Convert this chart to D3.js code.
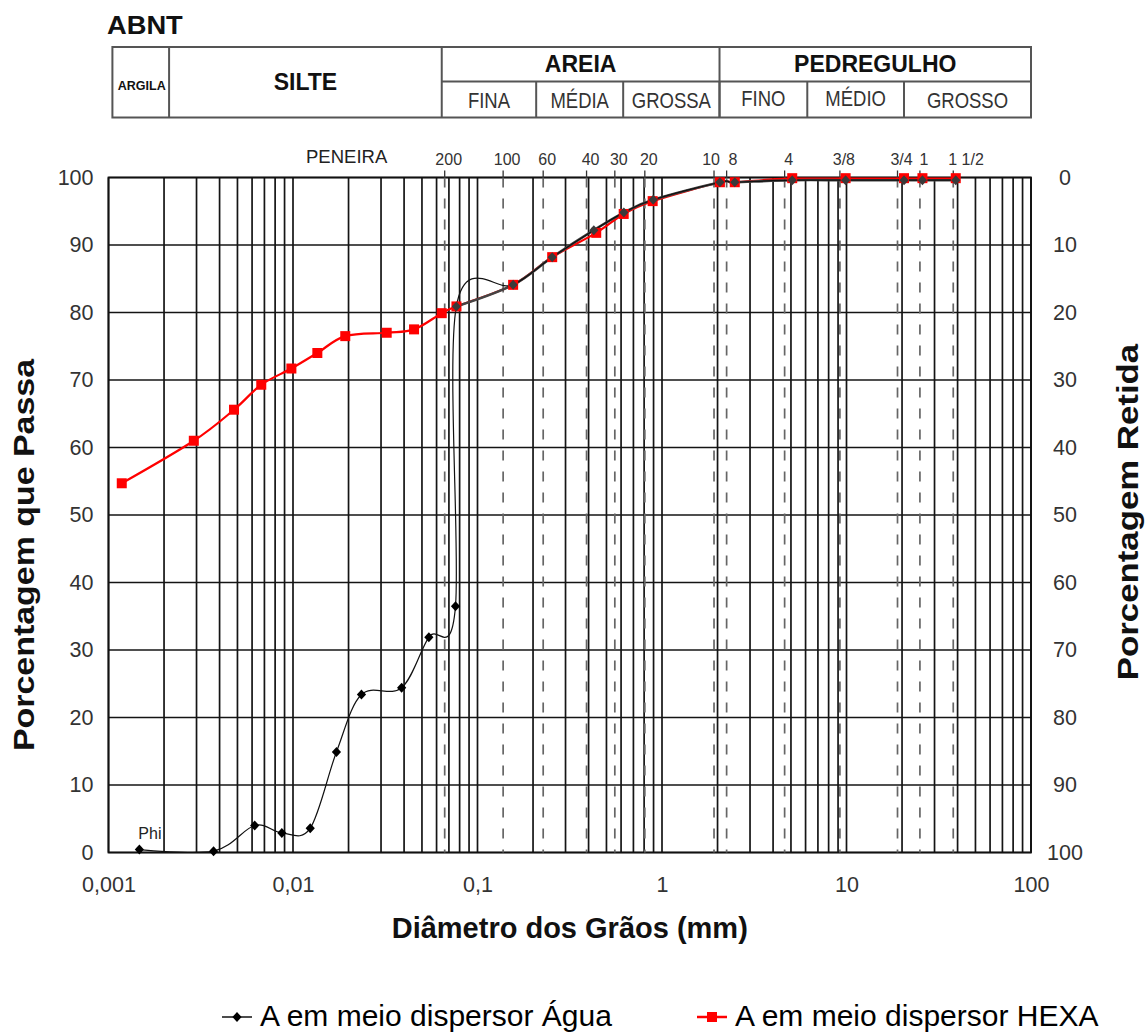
<!DOCTYPE html>
<html>
<head>
<meta charset="utf-8">
<script src="https://cdn.jsdelivr.net/npm/d3@7"></script>
<style>
  html, body { margin: 0; padding: 0; background: #fff; }
  text { font-family: "Liberation Sans", Arial, sans-serif; }
</style>
</head>
<body>
<div id="chart"></div>
<script>
// Curva granulométrica — ensaio em água e com hexametafosfato

// diâmetro (mm) / porcentagem que passa — série "Água"
const diamAgua = [0.00147, 0.00371, 0.0062, 0.0087, 0.0124, 0.0172, 0.0235, 0.0388, 0.0545, 0.0760,
  0.0768, 0.156, 0.254, 0.427, 0.621, 0.896, 2.06, 2.48, 5.08, 9.89, 20.5, 25.8, 39.1];
const passAgua = [0.44, 0.2, 4.0, 2.9, 3.6, 14.9, 23.4, 24.4, 31.9, 36.5,
  80.9, 84.1, 88.2, 92.2, 94.8, 96.7, 99.3, 99.3, 99.6, 99.6, 99.6, 99.6, 99.6];

// série "HEXA"
const diamHexa = [0.00118, 0.0029, 0.00479, 0.00673, 0.0098, 0.01355, 0.0192, 0.0322, 0.0453, 0.064,
  0.0769, 0.156, 0.254, 0.44, 0.62, 0.89, 2.06, 2.48, 5.08, 9.89, 20.5, 25.8, 39.1];
const passHexa = [54.7, 61.0, 65.6, 69.3, 71.7, 74.0, 76.5, 77.0, 77.5, 79.9,
  80.9, 84.1, 88.2, 91.8, 94.6, 96.5, 99.3, 99.3, 99.9, 99.9, 99.9, 99.9, 99.9];

// peneiras (posição)
const sieveLabels = ["200", "100", "60", "40", "30", "20", "10", "8", "4", "3/8", "3/4", "1", "1 1/2"];
const sieveDiam   = [0.0664, 0.1377, 0.227, 0.390, 0.555, 0.807, 1.914, 2.24, 4.62, 9.21, 18.9, 25.0, 37.9];

// escala ABNT
const abntTop    = ["ARGILA", "SILTE", "AREIA", "PEDREGULHO"];
const abntTopLim = [0.00105, 0.00213, 0.064, 2.05, 100];
const abntSub    = ["FINA", "MÉDIA", "GROSSA", "FINO", "MÉDIO", "GROSSO"];
const abntSubLim = [0.064, 0.208, 0.616, 2.05, 6.13, 20.5, 100];

const xTicks = [0.001, 0.01, 0.1, 1, 10, 100];
const yTicks = [0, 10, 20, 30, 40, 50, 60, 70, 80, 90, 100];

const W = 1147, H = 1034;
const P = { left: 108.5, right: 1031, top: 177.5, bottom: 852.5 };

const svg = d3.select("#chart").append("svg")
  .attr("width", W).attr("height", H)
  .style("display", "block");

svg.append("rect").attr("width", W).attr("height", H).attr("fill", "#fff");

const x = d3.scaleLog().domain([0.001, 100]).range([P.left, P.right]);
const y = d3.scaleLinear().domain([0, 100]).range([P.bottom, P.top]);
const yR = d3.scaleLinear().domain([100, 0]).range([P.bottom, P.top]);

// text helper — sx/sy stretch the glyphs (sx runs along the text, also when rotated)
function label(parent, tx, ty, str, o = {}) {
  return parent.append("text")
    .attr("transform", `translate(${tx},${ty})` + (o.rot ? ` rotate(${o.rot})` : "") + ` scale(${o.sx || 1},${o.sy || 1})`)
    .attr("text-anchor", o.anchor || "start")
    .attr("font-size", o.size || 16)
    .attr("font-weight", o.weight || "normal")
    .attr("fill", o.fill || "#111")
    .text(str);
}

// ---------- ABNT table ----------
const tb = svg.append("g");
const tTop = 47, tMid = 81.5, tBot = 117.5;
const border = "#555";

tb.append("rect")
  .attr("x", x(abntTopLim[0])).attr("y", tTop)
  .attr("width", x(100) - x(abntTopLim[0])).attr("height", tBot - tTop)
  .attr("fill", "none").attr("stroke", border).attr("stroke-width", 2);

abntTopLim.slice(1, -1).forEach(d => {
  tb.append("line").attr("x1", x(d)).attr("x2", x(d)).attr("y1", tTop).attr("y2", tBot)
    .attr("stroke", border).attr("stroke-width", 2);
});
tb.append("line").attr("x1", x(abntTopLim[2])).attr("x2", x(100)).attr("y1", tMid).attr("y2", tMid)
  .attr("stroke", border).attr("stroke-width", 2);
abntSubLim.slice(1, -1).forEach(d => {
  tb.append("line").attr("x1", x(d)).attr("x2", x(d)).attr("y1", tMid).attr("y2", tBot)
    .attr("stroke", border).attr("stroke-width", 2);
});

abntTop.forEach((s, i) => {
  const cx = (x(abntTopLim[i]) + x(abntTopLim[i + 1])) / 2;
  if (i === 0) label(tb, cx + 1, 90, s, { size: 12.5, weight: "bold", anchor: "middle" });
  else if (i === 1) label(tb, cx, 90, s, { size: 23, weight: "bold", anchor: "middle" });
  else label(tb, cx, 72, s, { size: 23, weight: "bold", anchor: "middle" });
});
abntSub.forEach((s, i) => {
  const cx = (x(abntSubLim[i]) + x(abntSubLim[i + 1])) / 2;
  label(tb, cx, i >= 3 && i < 5 ? 106 : 108, s, { size: 18.5, anchor: "middle", fill: "#333", sy: 1.2 });
});
label(svg, 107, 34, "ABNT", { size: 26, weight: "bold", sx: 1.05 });

// ---------- grid ----------
const grid = svg.append("g");
grid.selectAll("line.v").data(x.ticks()).join("line")
  .attr("x1", d => x(d)).attr("x2", d => x(d))
  .attr("y1", P.top).attr("y2", P.bottom)
  .attr("stroke", "#141414").attr("stroke-width", 1.7);
grid.selectAll("line.h").data(yTicks).join("line")
  .attr("x1", P.left).attr("x2", P.right)
  .attr("y1", d => y(d)).attr("y2", d => y(d))
  .attr("stroke", "#141414").attr("stroke-width", 1.7);
grid.append("rect")
  .attr("x", P.left).attr("y", P.top)
  .attr("width", P.right - P.left).attr("height", P.bottom - P.top)
  .attr("fill", "none").attr("stroke", "#111").attr("stroke-width", 1.8);

// sieves
const sv = svg.append("g");
sieveDiam.forEach((d, i) => {
  const px = x(d);
  sv.append("line")
    .attr("x1", px).attr("x2", px).attr("y1", P.top).attr("y2", P.bottom)
    .attr("stroke", "#666").attr("stroke-width", 1.7).attr("stroke-dasharray", "10,11");
  sv.append("line")
    .attr("x1", px).attr("x2", px).attr("y1", P.top - 7).attr("y2", P.top)
    .attr("stroke", "#333").attr("stroke-width", 1.3);
  const s = sieveLabels[i];
  const gapNext = i < sieveDiam.length - 1 ? x(sieveDiam[i + 1]) - px : 99;
  const gapPrev = i > 0 ? px - x(sieveDiam[i - 1]) : 99;
  if (s.includes(" ")) label(sv, px - 5, 165, s, { size: 16, fill: "#333" });
  else if (gapNext < 20) label(sv, px + 6, 165, s, { size: 16, anchor: "end", fill: "#333" });
  else if (gapPrev < 20) label(sv, px + 2, 165, s, { size: 16, fill: "#333" });
  else label(sv, px + 4, 165, s, { size: 16, anchor: "middle", fill: "#333" });
});
label(svg, 306, 163, "PENEIRA", { size: 18.5, fill: "#222" });

// ---------- axes ----------
const fmtX = d => String(d).replace(".", ",");
const ax = svg.append("g").attr("transform", `translate(0,${P.bottom})`)
  .call(d3.axisBottom(x).tickValues(xTicks).tickFormat(fmtX).tickSize(0).tickPadding(24));
const ayL = svg.append("g").attr("transform", `translate(${P.left},0)`)
  .call(d3.axisLeft(y).tickValues(yTicks).tickFormat(d3.format("d")).tickSize(0).tickPadding(15));
const ayR = svg.append("g").attr("transform", `translate(${P.right},0)`)
  .call(d3.axisRight(yR).tickValues(yTicks).tickFormat(d3.format("d")).tickSize(0));
ayR.selectAll("text").attr("x", 34).attr("text-anchor", "middle");
[ax, ayL, ayR].forEach(g => {
  g.select(".domain").remove();
  g.selectAll("text").attr("font-size", 21.5).attr("fill", "#333")
    .attr("font-family", "'Liberation Sans', Arial, sans-serif");
});

label(svg, (P.left + P.right) / 2, 938, "Diâmetro dos Grãos (mm)", { size: 29, weight: "bold", anchor: "middle" });
label(svg, 34, 555, "Porcentagem que Passa", { size: 29, weight: "bold", anchor: "middle", rot: -90, sx: 1.17 });
label(svg, 1138, 512, "Porcentagem Retida", { size: 29, weight: "bold", anchor: "middle", rot: -90, sx: 1.2 });

// ---------- series ----------
svg.append("clipPath").attr("id", "plotClip").append("rect")
  .attr("x", P.left).attr("y", P.top).attr("width", P.right - P.left).attr("height", P.bottom - P.top);

const agua = diamAgua.map((d, i) => [d, passAgua[i]]);
const hexa = diamHexa.map((d, i) => [d, passHexa[i]]);
const line = d3.line().x(d => x(d[0])).y(d => y(d[1])).curve(d3.curveCardinal.tension(0));

const series = svg.append("g").attr("clip-path", "url(#plotClip)");
series.append("path").attr("d", line(hexa))
  .attr("fill", "none").attr("stroke", "#ff0000").attr("stroke-width", 2.2);
series.append("path").attr("d", line(agua.slice(10)))
  .attr("fill", "none").attr("stroke", "#444").attr("stroke-width", 2.6);
series.append("path").attr("d", line(agua))
  .attr("fill", "none").attr("stroke", "#111").attr("stroke-width", 1.2);

const diamond = "M0,-5L4.6,0L0,5L-4.6,0Z";
svg.append("g").selectAll("rect").data(hexa).join("rect")
  .attr("x", d => x(d[0]) - 5).attr("y", d => y(d[1]) - 5)
  .attr("width", 10).attr("height", 10).attr("fill", "#ff0000");
svg.append("g").selectAll("path").data(agua).join("path")
  .attr("transform", d => `translate(${x(d[0])},${y(d[1])})`)
  .attr("d", diamond)
  .attr("fill", d => d[0] >= 0.0768 ? "#3a3a3a" : "#000");

label(svg, x(diamAgua[0]) - 1, 839, "Phi", { size: 16, fill: "#222" });

// ---------- legend ----------
const lg = svg.append("g");
lg.append("line").attr("x1", 222).attr("x2", 252).attr("y1", 1017).attr("y2", 1017)
  .attr("stroke", "#111").attr("stroke-width", 1.5);
lg.append("path").attr("transform", "translate(237,1017)").attr("d", diamond).attr("fill", "#000");
label(lg, 260, 1026, "A em meio dispersor Água", { size: 30, fill: "#000" });
lg.append("line").attr("x1", 697).attr("x2", 727).attr("y1", 1017).attr("y2", 1017)
  .attr("stroke", "#ff0000").attr("stroke-width", 2.5);
lg.append("rect").attr("x", 707).attr("y", 1012).attr("width", 10).attr("height", 10).attr("fill", "#ff0000");
label(lg, 735, 1026, "A em meio dispersor HEXA", { size: 30, fill: "#000" });
</script>
</body>
</html>
